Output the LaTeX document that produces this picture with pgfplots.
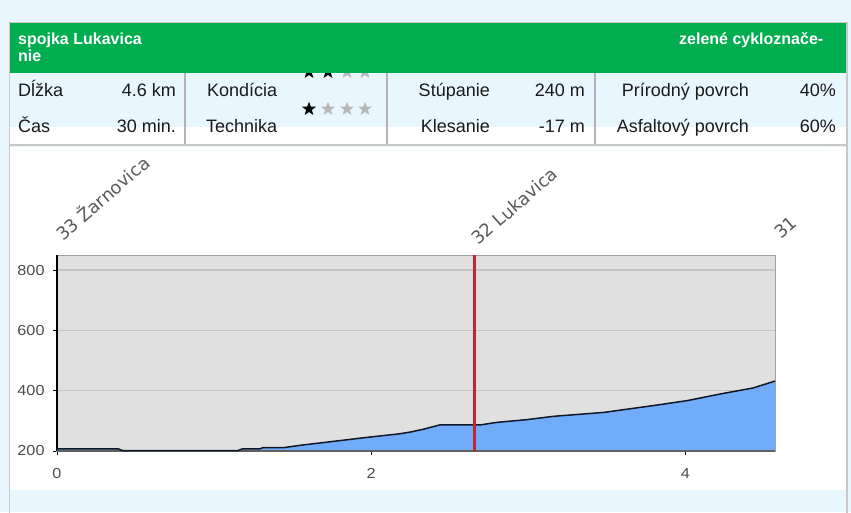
\documentclass[border=0pt]{standalone}
\usepackage{pgfplots}
\pgfplotsset{compat=1.18}
\usepackage{fontspec}
\setmainfont{Liberation Sans}
\newfontfamily\labfont{DejaVu Sans}
\usetikzlibrary{shapes.geometric}
\definecolor{pagebg}{HTML}{E8F6FE}
\definecolor{hdrgreen}{HTML}{00AE4F}
\definecolor{bordergrey}{HTML}{C8C8C8}
\definecolor{sepgrey}{HTML}{B4B4B4}
\definecolor{stargrey}{HTML}{B8B8B8}
\definecolor{txt}{HTML}{1A1A1A}
\definecolor{plotbg}{HTML}{E0E0E0}
\definecolor{gridgrey}{HTML}{C4C4C4}
\definecolor{framegrey}{HTML}{A0A0A0}
\definecolor{profile}{HTML}{70ACFA}
\definecolor{redline}{HTML}{C0282D}
\definecolor{ticklab}{HTML}{4D4D4D}
\definecolor{labgrey}{HTML}{5A5A5A}
\definecolor{botline}{HTML}{606060}
\definecolor{profline}{HTML}{101828}
\begin{document}
\begin{tikzpicture}
\begin{scope}[x=1pt,y=1pt]
\useasboundingbox (0,0) rectangle (851,512);
\fill[pagebg] (0,0) rectangle (851,512);
\fill[white] (10,367) rectangle (846,385);
\fill[white] (10,22) rectangle (846,365);
% stars (row 1 partly under header)
\tikzset{st/.style={star, star points=5, star point ratio=2.4, minimum size=14.6pt, inner sep=0pt, draw=none}}
\node[st, fill=black] at (309,440) {};
\node[st, fill=black] at (328,440) {};
\node[st, fill=stargrey] at (347,440) {};
\node[st, fill=stargrey] at (365,440) {};
\node[st, fill=black] at (309,403) {};
\node[st, fill=stargrey] at (328,403) {};
\node[st, fill=stargrey] at (347,403) {};
\node[st, fill=stargrey] at (365,403) {};
% header
\fill[hdrgreen] (10,438.7) rectangle (846,488.5);
\draw[bordergrey, line width=1.5pt] (9.5,-2) -- (9.5,489.5) -- (847,489.5) -- (847,-2);
\draw[bordergrey, line width=2pt] (10,366.5) -- (846,366.5);
\foreach \x in {185,387,595} \draw[sepgrey, line width=1.3pt] (\x,438.7) -- (\x,367.5);
% header text
\begin{scope}[every node/.style={inner sep=0pt, text=white, font=\fontsize{16}{16}\selectfont\bfseries}]
\node[anchor=base west] at (18,467) {spojka Lukavica};
\node[anchor=base west] at (18,450.3) {nie};
\node[anchor=base west] at (679,467) {zelené cykloznače-};
\end{scope}
% table text
\begin{scope}[every node/.style={inner sep=0pt, text=txt, font=\fontsize{18}{18}\selectfont}]
\node[anchor=base west] at (18,415) {Dĺžka};
\node[anchor=base east] at (176,415) {4.6 km};
\node[anchor=base west] at (18,379) {Čas};
\node[anchor=base east] at (176,379) {30 min.};
\node[anchor=base west] at (207,415) {Kondícia};
\node[anchor=base west] at (206,379) {Technika};
\node[anchor=base east] at (490,415) {Stúpanie};
\node[anchor=base east] at (490,379) {Klesanie};
\node[anchor=base east] at (585,415) {240 m};
\node[anchor=base east] at (585,379) {-17 m};
\node[anchor=base east] at (749,415) {Prírodný povrch};
\node[anchor=base east] at (749,379) {Asfaltový povrch};
\node[anchor=base east] at (836,415) {40\%};
\node[anchor=base east] at (836,379) {60\%};
\end{scope}
\end{scope}
\begin{axis}[
  at={(57pt,61pt)}, anchor=south west,
  scale only axis, width=718pt, height=196pt,
  xmin=0, xmax=4.57, ymin=200, ymax=850,
  xtick={0,2,4}, ytick={200,400,600,800},
  ymajorgrids, grid style={color=gridgrey, line width=1.2pt},
  axis background/.style={fill=plotbg},
  axis line style={draw=framegrey, line width=1pt},
  tick align=outside, xtick pos=left, ytick pos=left,
  major tick length=4pt,
  tick style={color=black, line width=0.8pt},
  tick label style={font=\fontsize{14.5}{14.5}\selectfont, text=ticklab, xscale=1.12},
  yticklabel style={xshift=-4pt},
  xticklabel style={yshift=-10pt},
  /pgf/number format/assume math mode=true,
  clip=false,
]
\addplot[fill=profile, draw=none] coordinates {
(0,200) (0,207) (0.39,207) (0.42,201) (1.15,201) (1.18,207) (1.29,207) (1.31,211) (1.44,211)
(1.55,219) (1.76,232) (1.97,245) (2.18,257) (2.25,263) (2.33,272) (2.44,287) (2.70,287)
(2.80,295) (2.99,304) (3.16,315) (3.48,328) (3.80,351) (4.01,367) (4.22,389) (4.43,409)
(4.57,432) (4.57,200)};
\draw[black, line width=1.2pt] (rel axis cs:0,0) -- (rel axis cs:0,1);
\draw[botline, line width=1.2pt] (rel axis cs:0,0) -- (rel axis cs:1,0);
\addplot[color=profline, line width=1.5pt] coordinates {
(0,207) (0.39,207) (0.42,201) (1.15,201) (1.18,207) (1.29,207) (1.31,211) (1.44,211)
(1.55,219) (1.76,232) (1.97,245) (2.18,257) (2.25,263) (2.33,272) (2.44,287) (2.70,287)
(2.80,295) (2.99,304) (3.16,315) (3.48,328) (3.80,351) (4.01,367) (4.22,389) (4.43,409)
(4.57,432)};
\addplot[color=redline, line width=3pt] coordinates {(2.656,200) (2.656,850)};
\begin{scope}[every node/.style={inner sep=0pt, text=labgrey, font=\labfont\fontsize{17.8}{17.8}\selectfont, anchor=base west}]
\node[xshift=6pt, yshift=13pt, rotate=41] at (axis cs:0,850) {33 Žarnovica};
\node[xshift=4pt, yshift=9pt, rotate=41] at (axis cs:2.656,850) {32 Lukavica};
\node[xshift=6pt, yshift=15pt, rotate=41] at (axis cs:4.57,850) {31};
\end{scope}
\end{axis}
\end{tikzpicture}
\end{document}
